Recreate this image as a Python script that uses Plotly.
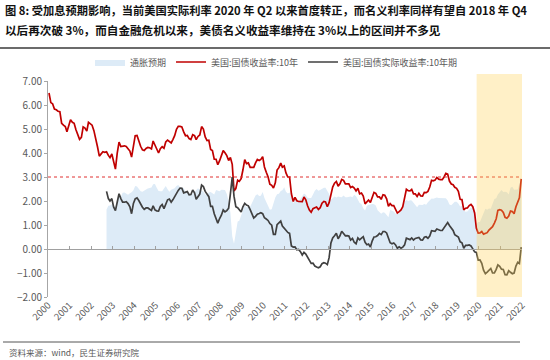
import pandas as pd
import plotly.graph_objects as go

# ---------------- data (monthly readings) ----------------
nominal_10y = [
    # 2000 May-Dec
    6.50, 6.10, 6.05, 5.83, 5.80, 5.74, 5.72, 5.24,
    # 2001
    5.16, 5.10, 4.89, 5.14, 5.39, 5.28, 5.24, 4.97, 4.73, 4.57, 4.65, 5.09,
    # 2002
    5.04, 4.91, 5.28, 5.21, 5.16, 4.93, 4.65, 4.26, 3.87, 3.94, 4.05, 4.03,
    # 2003
    4.05, 3.90, 3.81, 3.96, 3.57, 3.33, 3.98, 4.45, 4.27, 4.29, 4.30, 4.27,
    # 2004
    4.15, 4.08, 3.83, 4.35, 4.72, 4.73, 4.50, 4.28, 4.13, 4.10, 4.19, 4.23,
    # 2005
    4.22, 4.17, 4.50, 4.34, 4.14, 4.00, 4.18, 4.26, 4.20, 4.46, 4.54, 4.47,
    # 2006
    4.42, 4.57, 4.72, 4.99, 5.11, 5.11, 5.09, 4.88, 4.72, 4.73, 4.60, 4.56,
    # 2007
    4.76, 4.72, 4.56, 4.69, 4.75, 5.10, 5.00, 4.67, 4.52, 4.53, 4.15, 4.10,
    # 2008
    3.74, 3.74, 3.51, 3.68, 3.88, 4.10, 4.01, 3.89, 3.69, 3.81, 3.53, 2.42,
    # 2009
    2.52, 2.87, 2.82, 2.93, 3.29, 3.72, 3.56, 3.59, 3.40, 3.39, 3.40, 3.59,
    # 2010
    3.73, 3.69, 3.73, 3.85, 3.42, 3.20, 3.01, 2.70, 2.65, 2.54, 2.76, 3.29,
    # 2011
    3.39, 3.58, 3.41, 3.46, 3.17, 3.00, 3.00, 2.30, 1.98, 2.15, 2.01, 1.98,
    # 2012
    1.97, 1.97, 2.17, 2.05, 1.80, 1.62, 1.53, 1.68, 1.72, 1.75, 1.65, 1.72,
    # 2013
    1.91, 1.98, 1.96, 1.76, 1.93, 2.30, 2.58, 2.74, 2.81, 2.62, 2.72, 2.90,
    # 2014
    2.86, 2.71, 2.72, 2.71, 2.56, 2.60, 2.54, 2.42, 2.53, 2.30, 2.33, 2.21,
    # 2015
    1.88, 1.98, 2.04, 1.94, 2.20, 2.36, 2.32, 2.17, 2.17, 2.07, 2.26, 2.24,
    # 2016
    2.09, 1.78, 1.89, 1.81, 1.81, 1.64, 1.50, 1.56, 1.63, 1.76, 2.14, 2.49,
    # 2017
    2.43, 2.42, 2.48, 2.30, 2.30, 2.19, 2.32, 2.21, 2.20, 2.36, 2.35, 2.40,
    # 2018
    2.58, 2.86, 2.84, 2.87, 2.98, 2.91, 2.89, 2.89, 3.00, 3.15, 3.12, 2.83,
    # 2019
    2.71, 2.68, 2.57, 2.53, 2.40, 2.07, 2.06, 1.63, 1.70, 1.71, 1.81, 1.86,
    # 2020
    1.76, 1.50, 0.87, 0.66, 0.67, 0.73, 0.62, 0.65, 0.68, 0.79, 0.87, 0.93,
    # 2021
    1.08, 1.26, 1.61, 1.64, 1.62, 1.52, 1.32, 1.28, 1.37, 1.58, 1.56, 1.47,
    # 2022 Jan-Apr
    1.76, 1.93, 2.13, 2.92,
]

real_10y = [
    # 2003
    2.40, 2.10, 2.00, 2.10, 1.75, 1.60, 1.95, 2.30, 2.10, 1.95, 1.95, 1.97,
    # 2004
    1.89, 1.76, 1.47, 1.90, 2.09, 2.13, 2.02, 1.87, 1.74, 1.65, 1.71, 1.71,
    # 2005
    1.67, 1.61, 1.80, 1.63, 1.59, 1.58, 1.77, 1.85, 1.68, 1.84, 2.05, 2.08,
    # 2006
    1.95, 2.06, 2.19, 2.36, 2.44, 2.54, 2.53, 2.34, 2.35, 2.39, 2.26, 2.27,
    # 2007
    2.46, 2.34, 2.07, 2.16, 2.29, 2.66, 2.60, 2.40, 2.26, 2.18, 1.78, 1.78,
    # 2008
    1.47, 1.28, 1.08, 1.27, 1.41, 1.63, 1.55, 1.60, 1.70, 2.30, 3.00, 2.20,
    # 2009
    1.76, 1.72, 1.64, 1.54, 1.76, 1.90, 1.83, 1.80, 1.64, 1.48, 1.29, 1.36,
    # 2010
    1.45, 1.48, 1.51, 1.47, 1.30, 1.25, 1.19, 1.06, 0.99, 0.61, 0.61, 1.01,
    # 2011
    1.09, 1.16, 0.96, 0.89, 0.78, 0.69, 0.65, 0.13, 0.08, 0.09, -0.03, -0.02,
    # 2012
    -0.11, -0.25, -0.14, -0.21, -0.34, -0.50, -0.60, -0.59, -0.71, -0.75, -0.78, -0.74,
    # 2013
    -0.61, -0.57, -0.59, -0.65, -0.36, 0.25, 0.46, 0.55, 0.66, 0.43, 0.55, 0.74,
    # 2014
    0.63, 0.55, 0.56, 0.54, 0.37, 0.44, 0.28, 0.22, 0.46, 0.38, 0.45, 0.51,
    # 2015
    0.28, 0.18, 0.21, 0.08, 0.33, 0.50, 0.51, 0.56, 0.65, 0.60, 0.73, 0.73,
    # 2016
    0.67, 0.46, 0.26, 0.22, 0.25, 0.17, 0.03, 0.09, 0.03, 0.08, 0.17, 0.45,
    # 2017
    0.43, 0.39, 0.46, 0.37, 0.44, 0.45, 0.48, 0.38, 0.37, 0.49, 0.51, 0.45,
    # 2018
    0.54, 0.76, 0.75, 0.74, 0.83, 0.79, 0.77, 0.77, 0.88, 1.04, 1.10, 0.98,
    # 2019
    0.89, 0.77, 0.60, 0.56, 0.50, 0.30, 0.26, 0.03, 0.15, 0.15, 0.17, 0.13,
    # 2020
    0.03, -0.12, -0.14, -0.46, -0.45, -0.60, -0.88, -1.03, -0.96, -0.90, -0.81, -1.00,
    # 2021
    -1.00, -0.85, -0.66, -0.72, -0.84, -0.85, -1.07, -1.08, -0.90, -0.97, -1.03, -1.00,
    # 2022 Jan-Apr
    -0.71, -0.55, -0.60, 0.08,
]

breakeven = [
    # 2003
    1.65, 1.80, 1.81, 1.86, 1.82, 1.73, 2.03, 2.15, 2.17, 2.34, 2.35, 2.30,
    # 2004
    2.26, 2.32, 2.36, 2.45, 2.63, 2.60, 2.48, 2.41, 2.39, 2.45, 2.48, 2.52,
    # 2005
    2.55, 2.56, 2.70, 2.71, 2.55, 2.42, 2.41, 2.41, 2.52, 2.62, 2.49, 2.39,
    # 2006
    2.47, 2.51, 2.53, 2.63, 2.67, 2.57, 2.56, 2.54, 2.37, 2.34, 2.34, 2.29,
    # 2007
    2.30, 2.38, 2.49, 2.53, 2.46, 2.44, 2.40, 2.27, 2.26, 2.35, 2.37, 2.32,
    # 2008
    2.27, 2.46, 2.43, 2.41, 2.47, 2.47, 2.46, 2.29, 1.99, 1.51, 0.53, 0.22,
    # 2009
    0.76, 1.15, 1.18, 1.39, 1.53, 1.82, 1.73, 1.79, 1.76, 1.91, 2.11, 2.23,
    # 2010
    2.28, 2.21, 2.22, 2.38, 2.12, 1.95, 1.82, 1.64, 1.66, 1.93, 2.15, 2.28,
    # 2011
    2.30, 2.42, 2.45, 2.57, 2.39, 2.31, 2.35, 2.17, 1.90, 2.06, 2.04, 2.00,
    # 2012
    2.08, 2.22, 2.31, 2.26, 2.14, 2.12, 2.13, 2.27, 2.43, 2.50, 2.43, 2.46,
    # 2013
    2.52, 2.55, 2.55, 2.41, 2.29, 2.05, 2.12, 2.19, 2.15, 2.19, 2.17, 2.16,
    # 2014
    2.23, 2.16, 2.16, 2.17, 2.19, 2.16, 2.26, 2.20, 2.07, 1.92, 1.88, 1.70,
    # 2015
    1.60, 1.80, 1.83, 1.86, 1.87, 1.86, 1.81, 1.61, 1.52, 1.47, 1.53, 1.51,
    # 2016
    1.42, 1.32, 1.63, 1.59, 1.56, 1.47, 1.47, 1.47, 1.60, 1.68, 1.97, 2.04,
    # 2017
    2.00, 2.03, 2.02, 1.93, 1.86, 1.74, 1.84, 1.83, 1.83, 1.87, 1.84, 1.95,
    # 2018
    2.04, 2.10, 2.09, 2.13, 2.15, 2.12, 2.12, 2.12, 2.12, 2.11, 2.02, 1.85,
    # 2019
    1.82, 1.91, 1.97, 1.97, 1.90, 1.77, 1.80, 1.60, 1.55, 1.56, 1.64, 1.73,
    # 2020
    1.73, 1.62, 1.01, 1.12, 1.12, 1.33, 1.50, 1.68, 1.64, 1.69, 1.68, 1.93,
    # 2021
    2.08, 2.11, 2.27, 2.36, 2.46, 2.37, 2.39, 2.36, 2.27, 2.55, 2.59, 2.47,
    # 2022 Jan-Apr
    2.47, 2.48, 2.73, 2.88,
]

nominal_months = pd.date_range("2000-05-01", periods=len(nominal_10y), freq="MS") + pd.Timedelta(days=14)
real_months = pd.date_range("2003-01-01", periods=len(real_10y), freq="MS") + pd.Timedelta(days=14)

year_labels = [str(y) for y in range(2000, 2023)]
tick_dates = [f"{y}-04-28" for y in range(2000, 2023)]
x_range = ["2000-04-28", "2022-04-28"]

threshold = 3.0
highlight_start = "2020-03-20"
highlight_end = "2022-08-20"

series_names = ["通胀预期", "美国:国债收益率:10年", "美国:国债实际收益率:10年期"]
title_lines = [
    "图 8: 受加息预期影响，当前美国实际利率 2020 年 Q2 以来首度转正，而名义利率同样有望自 2018 年 Q4",
    "以后再次破 3%，而自金融危机以来，美债名义收益率维持在 3%以上的区间并不多见",
]
source_text = "资料来源：wind，民生证券研究院"

# ---------------- figure ----------------
FONT = "Noto Sans CJK SC, Noto Sans, sans-serif"
GRAY = "#595959"

W, H = 550, 360
ML, MR, MT, MB = 48, 28, 81, 63
PW, PH = W - ML - MR, H - MT - MB


def px_x(p):
    return (p - ML) / PW


def px_y(p):
    return (H - MB - p) / PH


fig = go.Figure()

fig.add_trace(go.Scatter(
    x=real_months, y=breakeven, name=series_names[0],
    mode="lines", line=dict(width=0, color="#DDEBF7"),
    fill="tozeroy", fillcolor="#DDEBF7",
))
fig.add_trace(go.Scatter(
    x=nominal_months, y=nominal_10y, name=series_names[1],
    mode="lines", line=dict(width=1.7, color="#C00000"),
))
fig.add_trace(go.Scatter(
    x=real_months, y=real_10y, name=series_names[2],
    mode="lines", line=dict(width=1.7, color="#404040"),
))
# 3% reference line drawn on the overlay axis (also ensures it is rendered)
fig.add_trace(go.Scatter(
    x=x_range, y=[threshold, threshold], xaxis="x2", yaxis="y",
    mode="lines", line=dict(width=1, color="#E03030", dash="dot"),
    showlegend=False, hoverinfo="skip",
))

fig.update_layout(
    width=W, height=H,
    margin=dict(l=ML, r=MR, t=MT, b=MB),
    paper_bgcolor="white", plot_bgcolor="white",
    font=dict(family=FONT, color=GRAY, size=10),
    showlegend=True,
    legend=dict(
        orientation="h", x=px_x(90), xanchor="left",
        y=px_y(62), yanchor="middle",
        font=dict(size=9, color=GRAY, family=FONT),
        bgcolor="rgba(0,0,0,0)", traceorder="normal",
        itemwidth=30,
    ),
    xaxis=dict(
        type="date", range=x_range,
        tickmode="array", tickvals=tick_dates, ticktext=year_labels,
        tickangle=-45, tickfont=dict(size=9.5, color=GRAY),
        showline=False, showgrid=False, zeroline=False, ticks="",
        automargin=False,
    ),
    xaxis2=dict(
        type="date", overlaying="x", matches="x", anchor="free",
        position=2 / 9, side="bottom",
        tickmode="array", tickvals=tick_dates,
        showticklabels=False, showline=True, linecolor="#A0A0A0", linewidth=1.2,
        ticks="inside", ticklen=3, tickcolor="#A0A0A0",
        showgrid=False, zeroline=False,
    ),
    yaxis=dict(
        range=[-2, 7], dtick=1, tick0=0, tickformat=".2f",
        tickfont=dict(size=10, color=GRAY),
        showline=True, linecolor="#A6A6A6", linewidth=1,
        ticks="outside", ticklen=3, tickcolor="#A6A6A6",
        showgrid=False, zeroline=False, automargin=False,
    ),
)

# highlighted period (translucent, on top)
fig.add_shape(
    type="rect", xref="x", yref="paper",
    x0=highlight_start, x1=highlight_end, y0=0, y1=px_y(74),
    fillcolor="rgba(255,208,80,0.32)", line=dict(width=0), layer="above",
)

# title rule and footer rule
fig.add_shape(type="line", xref="paper", yref="paper",
              x0=px_x(0), x1=px_x(550), y0=px_y(48), y1=px_y(48),
              line=dict(color="#3A3A3A", width=1.5))
fig.add_shape(type="line", xref="paper", yref="paper",
              x0=px_x(3), x1=px_x(520), y0=px_y(342), y1=px_y(342),
              line=dict(color="#555555", width=1))

for line, ypx, fs in zip(title_lines, [10, 30], [11.25, 11.6]):
    fig.add_annotation(
        text=f"<b>{line}</b>", xref="paper", yref="paper",
        x=px_x(3), y=px_y(ypx), xanchor="left", yanchor="middle",
        showarrow=False, font=dict(size=fs, color="#111111", family=FONT),
    )

fig.add_annotation(
    text=source_text, xref="paper", yref="paper",
    x=px_x(7), y=px_y(352), xanchor="left", yanchor="middle",
    showarrow=False, font=dict(size=8.5, color=GRAY, family=FONT),
)

fig.write_html(
    "out.html",
    config={"displayModeBar": False},
    post_script="document.body.style.margin='0px';",
)
